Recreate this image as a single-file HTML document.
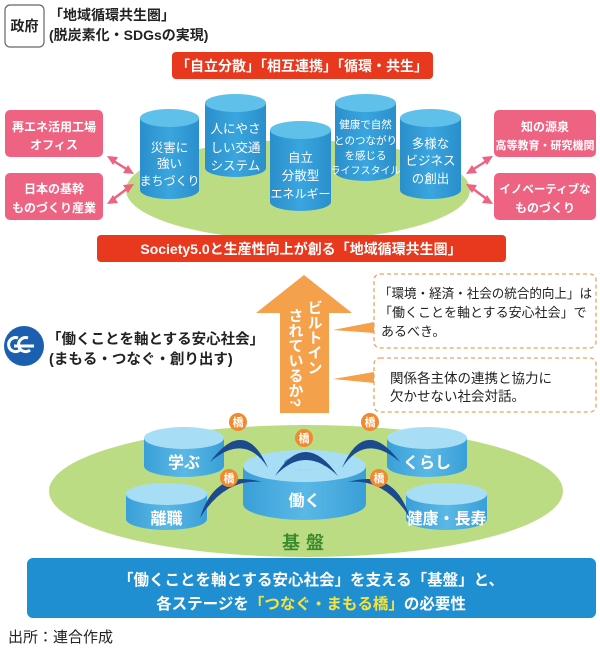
<!DOCTYPE html>
<html><head><meta charset="utf-8"><style>
html,body{margin:0;padding:0;background:#fff;}
svg{display:block;}
text{font-family:"Liberation Sans","Noto Sans CJK JP",sans-serif;}
</style></head><body>
<svg width="600" height="649" viewBox="0 0 600 649" xmlns="http://www.w3.org/2000/svg">
<defs>
<linearGradient id="side" x1="0" x2="1"><stop offset="0" stop-color="#2a8fcc"/><stop offset="0.5" stop-color="#3aa5de"/><stop offset="1" stop-color="#2a8fcc"/></linearGradient>
<linearGradient id="side2" x1="0" x2="1"><stop offset="0" stop-color="#3a9fd8"/><stop offset="0.5" stop-color="#5ab8e6"/><stop offset="1" stop-color="#3a9fd8"/></linearGradient>
</defs>
<rect x="5" y="5" width="39" height="42" rx="5" fill="#fff" stroke="#666" stroke-width="1.2"/>
<text x="24.5" y="31" font-size="14" font-weight="bold" text-anchor="middle" fill="#222">政府</text>
<text x="49" y="20" font-size="14" font-weight="bold" fill="#222">「地域循環共生圏」</text>
<text x="49" y="40" font-size="14" font-weight="bold" fill="#222">(脱炭素化・SDGsの実現)</text>
<rect x="172" y="52" width="261" height="27" rx="4" fill="#e8381e"/>
<text x="302" y="71" font-size="14" font-weight="bold" fill="#fff" text-anchor="middle">「自立分散」「相互連携」「循環・共生」</text>
<ellipse cx="298" cy="190" rx="172" ry="50" fill="#bcdc84"/>
<g>
<path d="M140 118 V190 A29.5 9 0 0 0 199 190 V118 Z" fill="url(#side)"/><ellipse cx="169.5" cy="118" rx="29.5" ry="9" fill="#5fc0ea"/>
<path d="M205 103 V168 A30.5 9 0 0 0 266 168 V103 Z" fill="url(#side)"/><ellipse cx="235.5" cy="103" rx="30.5" ry="9" fill="#5fc0ea"/>
<path d="M270 130 V202 A30.5 9 0 0 0 331 202 V130 Z" fill="url(#side)"/><ellipse cx="300.5" cy="130" rx="30.5" ry="9" fill="#5fc0ea"/>
<path d="M335 103 V172 A30.5 9 0 0 0 396 172 V103 Z" fill="url(#side)"/><ellipse cx="365.5" cy="103" rx="30.5" ry="9" fill="#5fc0ea"/>
<path d="M400 118 V190 A30.5 9 0 0 0 461 190 V118 Z" fill="url(#side)"/><ellipse cx="430.5" cy="118" rx="30.5" ry="9" fill="#5fc0ea"/>
</g>
<g fill="#fff" font-size="12.5" text-anchor="middle">
<text x="169.5" y="152">災害に</text><text x="169.5" y="168">強い</text><text x="169.5" y="185" font-size="12">まちづくり</text>
<text x="235.5" y="133">人にやさ</text><text x="235.5" y="152">しい交通</text><text x="235.5" y="170">システム</text>
<text x="300.5" y="162">自立</text><text x="300.5" y="180">分散型</text><text x="300.5" y="198" font-size="12">エネルギー</text>
<text x="365.5" y="128" font-size="10.5">健康で自然</text><text x="365.5" y="144" font-size="10.5">とのつながり</text><text x="365.5" y="159" font-size="10.5">を感じる</text><text x="365.5" y="174" font-size="10">ライフスタイル</text>
<text x="430.5" y="148">多様な</text><text x="430.5" y="165">ビジネス</text><text x="430.5" y="183">の創出</text>
</g>
<g fill="#ee6282">
<rect x="5" y="110" width="98" height="47" rx="5"/><rect x="5" y="173" width="98" height="47" rx="5"/>
<rect x="494" y="110" width="102" height="47" rx="5"/><rect x="494" y="173" width="102" height="47" rx="5"/>
</g>
<g fill="#fff" font-size="12" font-weight="bold" text-anchor="middle">
<text x="54" y="131">再エネ活用工場</text><text x="54" y="149">オフィス</text>
<text x="54" y="193">日本の基幹</text><text x="54" y="212">ものづくり産業</text>
<text x="545" y="131">知の源泉</text><text x="545" y="149" font-size="11">高等教育・研究機関</text>
<text x="545" y="193" font-size="11.5">イノベーティブな</text><text x="545" y="212">ものづくり</text>
</g>
<g stroke="#ee6282" stroke-width="2.5" fill="#ee6282">
<line x1="112" y1="160" x2="128" y2="170"/><line x1="112" y1="200" x2="128" y2="188"/>
<line x1="488" y1="160" x2="472" y2="170"/><line x1="488" y1="200" x2="472" y2="188"/>
</g>
<g fill="#ee6282">
<polygon points="107,156 118,157 113,165"/><polygon points="134,174 123,173 128,165"/>
<polygon points="107,204 113,195 118,203"/><polygon points="134,184 128,193 123,185"/>
<polygon points="493,156 482,157 487,165"/><polygon points="466,174 477,173 472,165"/>
<polygon points="493,204 487,195 482,203"/><polygon points="466,184 472,193 477,185"/>
</g>
<rect x="97" y="235" width="409" height="27" rx="4" fill="#e8381e"/>
<text x="301" y="254" font-size="14" font-weight="bold" fill="#fff" text-anchor="middle">Society5.0と生産性向上が創る「地域循環共生圏」</text>
<polygon points="304,275 352,313 329,313 329,413 280,413 280,313 256,313" fill="#f5a04a"/>
<text x="314" y="300" font-size="15" font-weight="bold" fill="#fff" style="writing-mode:vertical-rl">ビルトイン</text>
<text x="295" y="308" font-size="15" font-weight="bold" fill="#fff" style="writing-mode:vertical-rl">されているか?</text>
<polygon points="374,322 374,333 333,330" fill="#f5a04a"/>
<polygon points="374,372 374,383 333,379" fill="#f5a04a"/>
<rect x="374" y="274" width="222" height="74" rx="6" fill="#fff" stroke="#f0a060" stroke-width="1.3" stroke-dasharray="4,3"/>
<rect x="374" y="358" width="222" height="54" rx="6" fill="#fff" stroke="#f0a060" stroke-width="1.3" stroke-dasharray="4,3"/>
<g font-size="13" fill="#222">
<text x="379" y="298" textLength="213" lengthAdjust="spacingAndGlyphs">「環境・経済・社会の統合的向上」は</text>
<text x="379" y="317">「働くことを軸とする安心社会」で</text>
<text x="381" y="336">あるべき。</text>
<text x="390" y="383" font-size="13.5">関係各主体の連携と協力に</text>
<text x="390" y="401" font-size="13.5">欠かせない社会対話。</text>
</g>
<circle cx="24" cy="346" r="20" fill="#1a5fb0"/>
<path d="M18 338 a7 7 0 1 0 2 12 M28 338 a7 7 0 1 0 2 12 M14 346 h20" stroke="#fff" stroke-width="3" fill="none"/>
<text x="47" y="344" font-size="14.5" font-weight="bold" fill="#222">「働くことを軸とする安心社会」</text>
<text x="49" y="364" font-size="14.5" font-weight="bold" fill="#222">(まもる・つなぐ・創り出す)</text>
<ellipse cx="306" cy="491" rx="257" ry="66" fill="#bcdc84"/>
<path d="M144 438 V466 A40 11 0 0 0 224 466 V438 Z" fill="url(#side2)"/><ellipse cx="184" cy="438" rx="40" ry="11" fill="#a7def5"/>
<path d="M387 438 V466 A40 11 0 0 0 467 466 V438 Z" fill="url(#side2)"/><ellipse cx="427" cy="438" rx="40" ry="11" fill="#a7def5"/>
<path d="M126 494 V519 A40.5 11 0 0 0 207 519 V494 Z" fill="url(#side2)"/><ellipse cx="166.5" cy="494" rx="40.5" ry="11" fill="#a7def5"/>
<path d="M406 494 V519 A40.5 11 0 0 0 487 519 V494 Z" fill="url(#side2)"/><ellipse cx="446.5" cy="494" rx="40.5" ry="11" fill="#a7def5"/>
<path d="M243 466 V504 A61.5 16 0 0 0 366 504 V466 Z" fill="url(#side2)"/><ellipse cx="304.5" cy="466" rx="61.5" ry="16" fill="#a7def5"/>
<ellipse cx="305" cy="463" rx="21" ry="7" fill="#3a9fd8"/><ellipse cx="305" cy="465" rx="19" ry="5" fill="#a7def5"/>
<g fill="#fff" font-size="16" font-weight="bold" text-anchor="middle">
<text x="184" y="468">学ぶ</text><text x="427" y="468">くらし</text>
<text x="166.5" y="524">離職</text><text x="446.5" y="524">健康・長寿</text>
<text x="304.5" y="506">働く</text>
</g>
<g fill="#1b4a8f">
<path d="M210 462 Q245 415 268 468 Q245 432 210 462 Z"/>
<path d="M400 462 Q365 415 342 468 Q365 432 400 462 Z"/>
<path d="M275 476 Q305 428 338 476 Q305 444 275 476 Z"/>
<path d="M200 518 Q215 468 262 482 Q225 478 200 518 Z"/>
<path d="M410 518 Q395 468 348 482 Q385 478 410 518 Z"/>
</g>
<g fill="#f08a30">
<circle cx="238" cy="422" r="9"/><circle cx="370" cy="422" r="9"/><circle cx="304" cy="438" r="9"/>
<circle cx="229" cy="478" r="9"/><circle cx="379" cy="478" r="9"/>
</g>
<g fill="#fff" font-size="11" font-weight="bold" text-anchor="middle">
<text x="238" y="426">橋</text><text x="370" y="426">橋</text><text x="304" y="442">橋</text>
<text x="229" y="482">橋</text><text x="379" y="482">橋</text>
</g>
<text x="306" y="549" font-size="18" font-weight="bold" fill="#3a8a2e" text-anchor="middle" letter-spacing="6">基盤</text>
<rect x="27" y="558" width="569" height="60" rx="6" fill="#1f8fd2"/>
<text x="311" y="585" font-size="15.5" font-weight="bold" fill="#fff" text-anchor="middle">「働くことを軸とする安心社会」を支える「基盤」と、</text>
<text x="311" y="609" font-size="15.5" font-weight="bold" fill="#fff" text-anchor="middle">各ステージを<tspan fill="#f7e33a">「つなぐ・まもる橋」</tspan>の必要性</text>
<text x="8" y="642" font-size="15" fill="#222">出所：連合作成</text>
</svg>
</body></html>
